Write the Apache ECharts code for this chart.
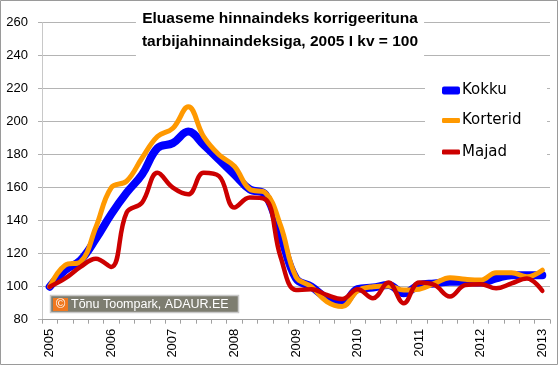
<!DOCTYPE html>
<html><head><meta charset="utf-8">
<script src="https://cdn.jsdelivr.net/npm/echarts@6/dist/echarts.min.js"></script>
<style>html,body{margin:0;padding:0;background:#fff}#c{width:560px;height:366px}</style>
</head><body><div id="c"></div>
<script>
const categories = [
  '2005 I','2005 II','2005 III','2005 IV',
  '2006 I','2006 II','2006 III','2006 IV',
  '2007 I','2007 II','2007 III','2007 IV',
  '2008 I','2008 II','2008 III','2008 IV',
  '2009 I','2009 II','2009 III','2009 IV',
  '2010 I','2010 II','2010 III','2010 IV',
  '2011 I','2011 II','2011 III','2011 IV',
  '2012 I','2012 II','2012 III','2012 IV',
  '2013 I'
];
const kokku = [100,110,116,129,144,157,168,184,187,194,186,177,168,159,156,131,105,100,93,90,98.5,99.5,101,96,101,102,103,103,102.5,105,107,107,107];
const korterid = [100,113,115,136,160,164,178,191,196,209,191,180,173,159,157,137,106,100,91,88,97.5,100,100.5,98,98.5,102,105.5,104.5,104,108.5,108.5,106,110];
const majad = [100,105,112,117,112,145,151,169,160,156,169,167,148,154,153,118,98,98.5,95,92.5,98.5,93,102.5,90,102.5,101,94,101,101.5,99,102,105,97.5];
const titleLines = ['Eluaseme hinnaindeks korrigeerituna', 'tarbijahinnaindeksiga, 2005 I kv = 100'];
const seriesNames = ['Kokku', 'Korterid', 'Majad'];
const copyrightText = 'Tõnu Toompark, ADAUR.EE';

const chart = echarts.init(document.getElementById('c'), null, {renderer: 'canvas'});
const colors = ['#0000ff', '#ff9900', '#cc0000'];
const widths = [8, 5, 4.5];
const legendTops = [83, 113, 144.5];
const legendH = [8, 5, 5];

function mkLegend(i) {
  return {
    data: [seriesNames[i]],
    left: 442, top: legendTops[i], padding: 0,
    icon: 'roundRect', itemWidth: 18, itemHeight: legendH[i],
    itemStyle: {color: colors[i]},
    textStyle: {fontFamily: 'DejaVu Sans', fontSize: 15, color: '#000', padding: [0,0,0,-3]},
    selectedMode: false
  };
}

chart.setOption({
  animation: false,
  backgroundColor: '#fff',
  color: colors,
  title: {
    text: titleLines.join('\n'),
    left: 'center', top: 4,
    padding: [3, 6, 3, 6],
    backgroundColor: '#fff',
    textStyle: {fontFamily: 'Liberation Sans', fontWeight: 'bold', fontSize: 15.5, color: '#000', lineHeight: 23}
  },
  legend: [mkLegend(0), mkLegend(1), mkLegend(2)],
  grid: {left: 42, top: 22.7, width: 508, height: 297, containLabel: false},
  xAxis: {
    type: 'category', data: categories, boundaryGap: true,
    axisLine: {lineStyle: {color: '#a0a0a0', width: 1}},
    axisTick: {show: true, interval: 0, length: 4, lineStyle: {color: '#a0a0a0'}},
    axisLabel: {
      interval: 3, rotate: 90, margin: 9,
      fontFamily: 'Liberation Sans', fontSize: 13, color: '#000',
      formatter: v => v.split(' ')[0]
    },
    splitLine: {show: false}
  },
  yAxis: {
    type: 'value', min: 80, max: 260, interval: 20,
    axisLine: {show: true, lineStyle: {color: '#c8c8c8', width: 1}},
    axisTick: {show: true, length: 4, lineStyle: {color: '#b0b0b0'}},
    axisLabel: {margin: 14, fontFamily: 'Liberation Sans', fontSize: 13, color: '#000'},
    splitLine: {show: true, lineStyle: {color: '#b4b4b4', width: 1}}
  },
  graphic: [
    {type: 'rect', z: 1, shape: {x: 425, y: 64, width: 122, height: 111}, style: {fill: '#fff'}},
    {type: 'rect', z: 100, shape: {x: 0.5, y: 0.5, width: 557, height: 364}, style: {fill: 'none', stroke: '#9a9a9a', lineWidth: 1}},
    {type: 'group', z: 50, children: [
      {type: 'rect', shape: {x: 50.5, y: 295.5, width: 188, height: 17}, style: {fill: '#7d7d70', stroke: '#c8c8c8', lineWidth: 1.5}},
      {type: 'rect', shape: {x: 53, y: 298, width: 15, height: 13}, style: {fill: '#f07820'}},
      {type: 'text', style: {x: 60.5, y: 304.5, text: '©', fill: '#fff', font: '13px "Liberation Sans"', align: 'center', verticalAlign: 'middle'}},
      {type: 'text', style: {x: 71, y: 304.5, text: copyrightText, fill: '#fff', font: '12.5px "Liberation Sans"', align: 'left', verticalAlign: 'middle'}}
    ]}
  ],
  series: seriesNames.map((name, i) => ({
    name, type: 'line', data: [kokku, korterid, majad][i],
    smooth: 0.4, symbol: 'none', z: 2 + i,
    lineStyle: {color: colors[i], width: widths[i], cap: 'round', join: 'round'},
    itemStyle: {color: colors[i]},
    emphasis: {disabled: true}
  }))
});
</script></body></html>
